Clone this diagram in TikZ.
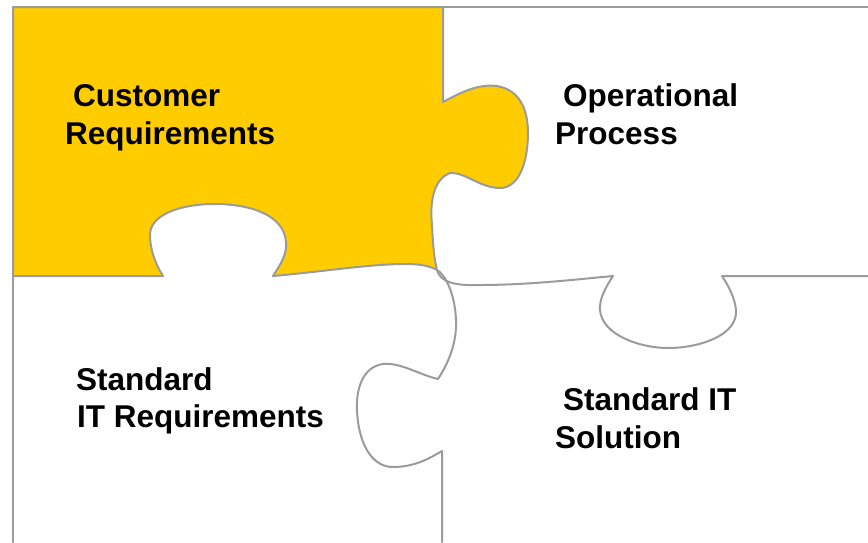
\documentclass[tikz,border=0pt]{standalone}
\usepackage{fontspec}
\setmainfont{Liberation Sans}
\definecolor{puzyellow}{HTML}{FFCC00}
\definecolor{edgegray}{HTML}{9B9B9B}
\begin{document}
\begin{tikzpicture}[x=1pt,y=-1pt,
  edge/.style={draw=edgegray,line width=2pt,line join=round,line cap=round},
  lbl/.style={anchor=base west,inner sep=0pt,font=\fontsize{31.5}{38}\selectfont\bfseries}]
\useasboundingbox (0,0) rectangle (868,542);
% yellow piece
\path[fill=puzyellow,edge] (13,7) -- (443,7) -- (443,102)
  .. controls (465,90) and (480,84) .. (497,86)
  .. controls (520,90) and (528,110) .. (528,133)
  .. controls (528,160) and (520,188) .. (500,188)
  .. controls (480,188) and (465,172) .. (450,173)
  .. controls (432,180) and (430,205) .. (432,225)
  .. controls (433,245) and (434,258) .. (437,270)
  .. controls (430,266) and (420,264) .. (405,264)
  .. controls (370,264) and (320,272) .. (273,276)
  .. controls (280,265) and (287,255) .. (286,243)
  .. controls (285,215) and (250,204) .. (215,204)
  .. controls (180,204) and (148,215) .. (150,237)
  .. controls (151,255) and (158,268) .. (163,276)
  -- (13,276) -- cycle;
% frame
\draw[edge] (868,7) -- (13,7) -- (13,542);
% operational process bottom edge
\draw[edge] (437,270) .. controls (440,282) and (455,286) .. (480,285)
  .. controls (530,285) and (580,279) .. (613,276)
  .. controls (605,288) and (599,300) .. (600,310)
  .. controls (602,335) and (640,348) .. (668,348)
  .. controls (700,348) and (738,335) .. (736,310)
  .. controls (735,298) and (728,285) .. (722,276)
  -- (868,276);
% standard IT requirements right edge
\draw[edge] (437,270) .. controls (446,275) and (455,295) .. (456,320)
  .. controls (457,345) and (447,365) .. (438,379)
  .. controls (420,375) and (400,362) .. (383,364)
  .. controls (362,367) and (356,390) .. (357,410)
  .. controls (358,440) and (370,467) .. (393,467)
  .. controls (415,467) and (430,458) .. (442,451)
  -- (442,542);
% labels
\node[lbl] (c1) at (73,106) {Customer};
\node[lbl] (c2) at (65,144) {Requirements};
\node[lbl] (o1) at (563,106) {Operational};
\node[lbl] (o2) at (555,144) {Process};
\node[lbl] (s1) at (76,390) {Standard};
\node[lbl] (s2) at (77,427) {IT Requirements};
\node[lbl] (t1) at (563,410) {Standard IT};
\node[lbl] (t2) at (555,448) {Solution};
\end{tikzpicture}
\end{document}
